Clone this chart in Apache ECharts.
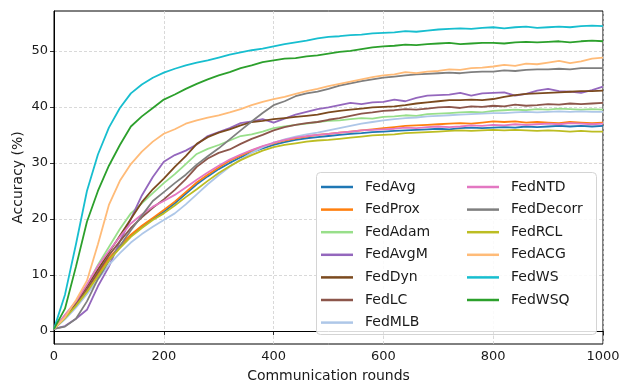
<!DOCTYPE html>
<html>
<head>
<meta charset="utf-8">
<title>Accuracy vs communication rounds</title>
<script src="https://cdn.jsdelivr.net/npm/echarts@6/dist/echarts.min.js"></script>
<style>
  html, body { margin: 0; padding: 0; background: #fff; }
  #chart { width: 621px; height: 383px; }
</style>
</head>
<body>
<div id="chart"></div>
<script>
// Communication rounds at which accuracy was recorded
const rounds = [0,20,40,60,80,100,120,140,160,180,200,220,240,260,280,300,320,340,360,380,400,420,440,460,480,500,520,540,560,580,600,620,640,660,680,700,720,740,760,780,800,820,840,860,880,900,920,940,960,980,1000];

// Test accuracy (%) per method
const fedAvg = [0.4,2.4,4.6,7.2,10.0,12.8,15.0,17.0,18.6,20.0,21.3,22.8,24.5,26.2,27.6,28.9,30.0,31.0,31.9,32.6,33.2,33.7,34.1,34.4,34.6,34.8,35.0,35.2,35.3,35.5,35.6,35.7,35.8,35.9,36.0,36.1,36.0,36.2,36.3,36.2,36.3,36.4,36.3,36.5,36.4,36.5,36.6,36.5,36.6,36.5,36.6];
const fedProx = [0.4,2.5,4.7,7.3,10.2,13.0,15.2,17.2,18.8,20.2,21.6,23.1,24.8,26.5,27.9,29.2,30.4,31.3,32.2,32.9,33.5,34.0,34.4,34.7,35.0,35.2,35.4,35.6,35.8,36.0,36.2,36.4,36.6,36.7,36.8,36.9,37.0,37.1,37.0,37.2,37.4,37.3,37.4,37.2,37.3,37.2,37.1,37.3,37.2,37.1,37.2];
const fedAdam = [0.4,2.8,5.0,8.2,11.8,15.0,18.2,21.0,22.8,24.6,26.4,28.0,29.8,31.6,32.5,33.2,34.0,34.8,35.1,35.6,36.2,36.5,36.8,37.0,37.3,37.5,37.6,37.8,38.0,37.9,38.2,38.3,38.5,38.4,38.7,38.8,38.9,39.0,39.1,39.0,39.3,39.4,39.5,39.4,39.6,39.5,39.7,39.6,39.5,39.6,39.5];
const fedAvgM = [0.4,0.9,2.2,3.8,8.0,11.5,16.0,20.0,24.2,27.5,30.2,31.4,32.2,33.3,34.8,35.5,36.2,37.1,37.4,37.8,37.2,37.9,38.6,39.1,39.6,39.9,40.3,40.7,40.5,40.8,40.9,41.3,41.0,41.6,42.0,42.1,42.2,42.5,42.0,42.4,42.5,42.6,42.0,42.3,42.9,43.2,42.8,42.7,42.5,43.0,43.6];
const fedDyn = [0.4,2.6,5.0,8.0,11.0,14.0,17.0,20.0,23.0,25.3,27.2,29.3,31.2,33.4,34.6,35.4,36.0,36.7,37.3,37.5,37.8,38.0,38.2,38.4,38.6,39.0,39.3,39.5,39.7,39.9,40.0,40.1,40.3,40.6,40.8,41.0,41.2,41.2,41.3,41.2,41.4,41.8,42.1,42.3,42.4,42.5,42.6,42.7,42.8,42.8,42.9];
const fedLC = [0.4,2.4,4.7,7.5,10.5,13.5,16.0,18.4,20.3,22.0,23.5,25.2,27.1,29.3,30.8,31.8,32.4,33.4,34.3,35.0,35.8,36.4,36.8,37.1,37.3,37.7,38.0,38.4,38.8,39.0,39.3,39.4,39.6,39.5,39.7,39.9,40.0,39.8,40.1,40.0,40.2,40.1,40.4,40.2,40.3,40.5,40.4,40.6,40.5,40.6,40.7];
const fedMLB = [0.4,2.1,4.2,6.6,9.2,11.8,13.9,15.8,17.3,18.6,19.8,21.0,22.6,24.4,26.2,27.8,29.3,30.6,31.8,32.8,33.6,34.2,34.7,35.1,35.4,35.8,36.2,36.6,37.0,37.3,37.6,37.8,38.0,38.1,38.3,38.4,38.5,38.6,38.7,38.8,38.9,38.9,39.0,39.1,39.0,39.1,39.2,39.1,39.2,39.1,39.1];
const fedNTD = [0.4,2.9,5.3,8.3,11.6,14.3,16.8,19.2,20.8,22.2,23.2,24.3,25.6,27.0,28.3,29.5,30.6,31.5,32.3,33.0,33.6,34.1,34.5,34.8,35.0,35.2,35.4,35.6,35.8,35.9,36.0,36.1,36.3,36.2,36.4,36.5,36.4,36.5,36.7,36.6,36.8,36.7,36.9,36.8,36.9,37.0,36.9,37.1,37.0,36.9,37.0];
const fedDecorr = [0.4,0.8,2.2,5.3,9.3,12.5,15.2,18.0,20.6,23.2,24.8,26.4,27.9,29.7,31.2,32.6,34.2,35.8,37.4,38.9,40.3,41.0,41.9,42.4,42.7,43.2,43.8,44.2,44.6,44.9,45.2,45.4,45.6,45.8,45.9,46.0,46.1,46.0,46.2,46.3,46.3,46.5,46.4,46.6,46.7,46.7,46.8,46.7,46.9,46.9,46.9];
const fedRCL = [0.4,2.3,4.5,7.0,9.8,12.6,14.8,16.8,18.4,19.8,21.0,22.4,23.9,25.3,26.8,28.2,29.4,30.5,31.4,32.2,32.8,33.2,33.5,33.8,34.0,34.1,34.3,34.5,34.7,34.9,35.0,35.1,35.3,35.4,35.5,35.6,35.7,35.8,35.7,35.8,35.9,35.8,35.9,35.8,35.7,35.8,35.7,35.6,35.7,35.6,35.6];
const fedACG = [0.4,2.5,5.5,9.0,15.5,22.5,26.8,29.8,32.0,33.8,35.2,36.0,37.0,37.6,38.1,38.5,39.0,39.6,40.3,40.9,41.4,41.8,42.3,42.8,43.2,43.7,44.1,44.5,44.9,45.3,45.6,45.8,46.2,46.0,46.3,46.4,46.7,46.6,46.9,47.0,47.2,47.5,47.3,47.7,47.6,47.9,48.2,47.8,48.1,48.6,48.8];
const fedWS = [0.4,6.5,15.5,25.0,31.5,36.3,39.8,42.4,44.0,45.2,46.1,46.8,47.4,47.9,48.3,48.8,49.3,49.7,50.1,50.4,50.8,51.2,51.5,51.8,52.2,52.5,52.6,52.8,52.9,53.1,53.2,53.3,53.5,53.4,53.6,53.8,53.9,54.0,53.9,54.1,54.2,54.0,54.2,54.3,54.1,54.2,54.3,54.2,54.4,54.5,54.4];
const fedWSQ = [0.4,4.0,11.5,19.5,25.0,29.5,33.2,36.5,38.3,39.8,41.3,42.2,43.2,44.1,44.9,45.6,46.2,46.9,47.4,48.0,48.3,48.6,48.7,49.0,49.2,49.5,49.8,50.0,50.3,50.6,50.8,50.9,51.1,51.0,51.2,51.3,51.4,51.2,51.3,51.4,51.4,51.3,51.5,51.6,51.5,51.6,51.7,51.5,51.7,51.8,51.7];

const methodNames = ['FedAvg','FedProx','FedAdam','FedAvgM','FedDyn','FedLC','FedMLB','FedNTD','FedDecorr','FedRCL','FedACG','FedWS','FedWSQ'];
const methodValues = [fedAvg, fedProx, fedAdam, fedAvgM, fedDyn, fedLC, fedMLB, fedNTD, fedDecorr, fedRCL, fedACG, fedWS, fedWSQ];
const methodColors = ['#1f77b4','#ff7f0e','#98df8a','#9467bd','#7b4a1e','#8c564b','#aec7e8','#e377c2','#7f7f7f','#bcbd22','#ffbb78','#17becf','#2ca02c'];

const yTicks = [0, 10, 20, 30, 40, 50];
const font = 'DejaVu Sans';

const chart = echarts.init(document.getElementById('chart'), null, { renderer: 'canvas' });

const series = methodNames.map((name, k) => ({
  name: name,
  type: 'line',
  showSymbol: false,
  symbol: 'none',
  animation: false,
  lineStyle: { width: 1.8, color: methodColors[k] },
  itemStyle: { color: methodColors[k] },
  data: rounds.map((r, i) => [r, methodValues[k][i]])
}));

const legendCommon = {
  orient: 'vertical',
  padding: 0,
  itemWidth: 32,
  itemHeight: 2.5,
  itemGap: 8.6,
  icon: 'rect',
  textStyle: { fontFamily: font, fontSize: 14, color: '#1a1a1a', padding: [0, 0, 0, 7], lineHeight: 14 },
  z: 10
};

chart.setOption({
  animation: false,
  backgroundColor: '#fff',
  grid: {
    left: 54, right: 18, top: 11, bottom: 39,
    outerBoundsMode: 'none',
    containLabel: false,
    show: true, borderColor: '#000', borderWidth: 1, backgroundColor: 'transparent'
  },
  xAxis: {
    type: 'value',
    min: 0, max: 1000, interval: 200,
    name: 'Communication rounds',
    nameLocation: 'middle',
    nameGap: 25,
    nameMoveOverlap: false,
    nameTextStyle: { fontFamily: font, fontSize: 14, color: '#1a1a1a' },
    axisLine: { show: true, lineStyle: { color: '#000', width: 1 } },
    axisTick: { show: true, length: 4, lineStyle: { color: '#000', width: 0.8 } },
    axisLabel: { fontFamily: font, fontSize: 13, color: '#1a1a1a', margin: 6, formatter: v => String(v) },
    splitLine: { show: true, lineStyle: { color: '#cfcfcf', type: [3, 2], width: 0.8 } }
  },
  yAxis: {
    type: 'value',
    min: -2.3, max: 57.1,
    name: 'Accuracy (%)',
    nameLocation: 'middle',
    nameRotate: 90,
    nameGap: 29,
    nameMoveOverlap: false,
    nameTextStyle: { fontFamily: font, fontSize: 14, color: '#1a1a1a' },
    axisLine: { show: true, lineStyle: { color: '#000', width: 1 } },
    axisTick: { show: true, length: 4, customValues: yTicks, lineStyle: { color: '#000', width: 0.8 } },
    axisLabel: { fontFamily: font, fontSize: 13, color: '#1a1a1a', margin: 6, customValues: yTicks },
    splitLine: { show: true, lineStyle: { color: '#cfcfcf', type: [3, 2], width: 0.8 } }
  },
  legend: [
    Object.assign({}, legendCommon, { left: 321, top: 180, data: methodNames.slice(0, 7) }),
    Object.assign({}, legendCommon, { left: 467, top: 180, data: methodNames.slice(7) })
  ],
  graphic: [{
    type: 'rect',
    z: 5,
    shape: { x: 316.5, y: 172.5, width: 280, height: 162, r: 4 },
    style: { fill: 'rgba(255,255,255,0.85)', stroke: '#d4d4d4', lineWidth: 1 }
  }],
  series: series
});
</script>
</body>
</html>
